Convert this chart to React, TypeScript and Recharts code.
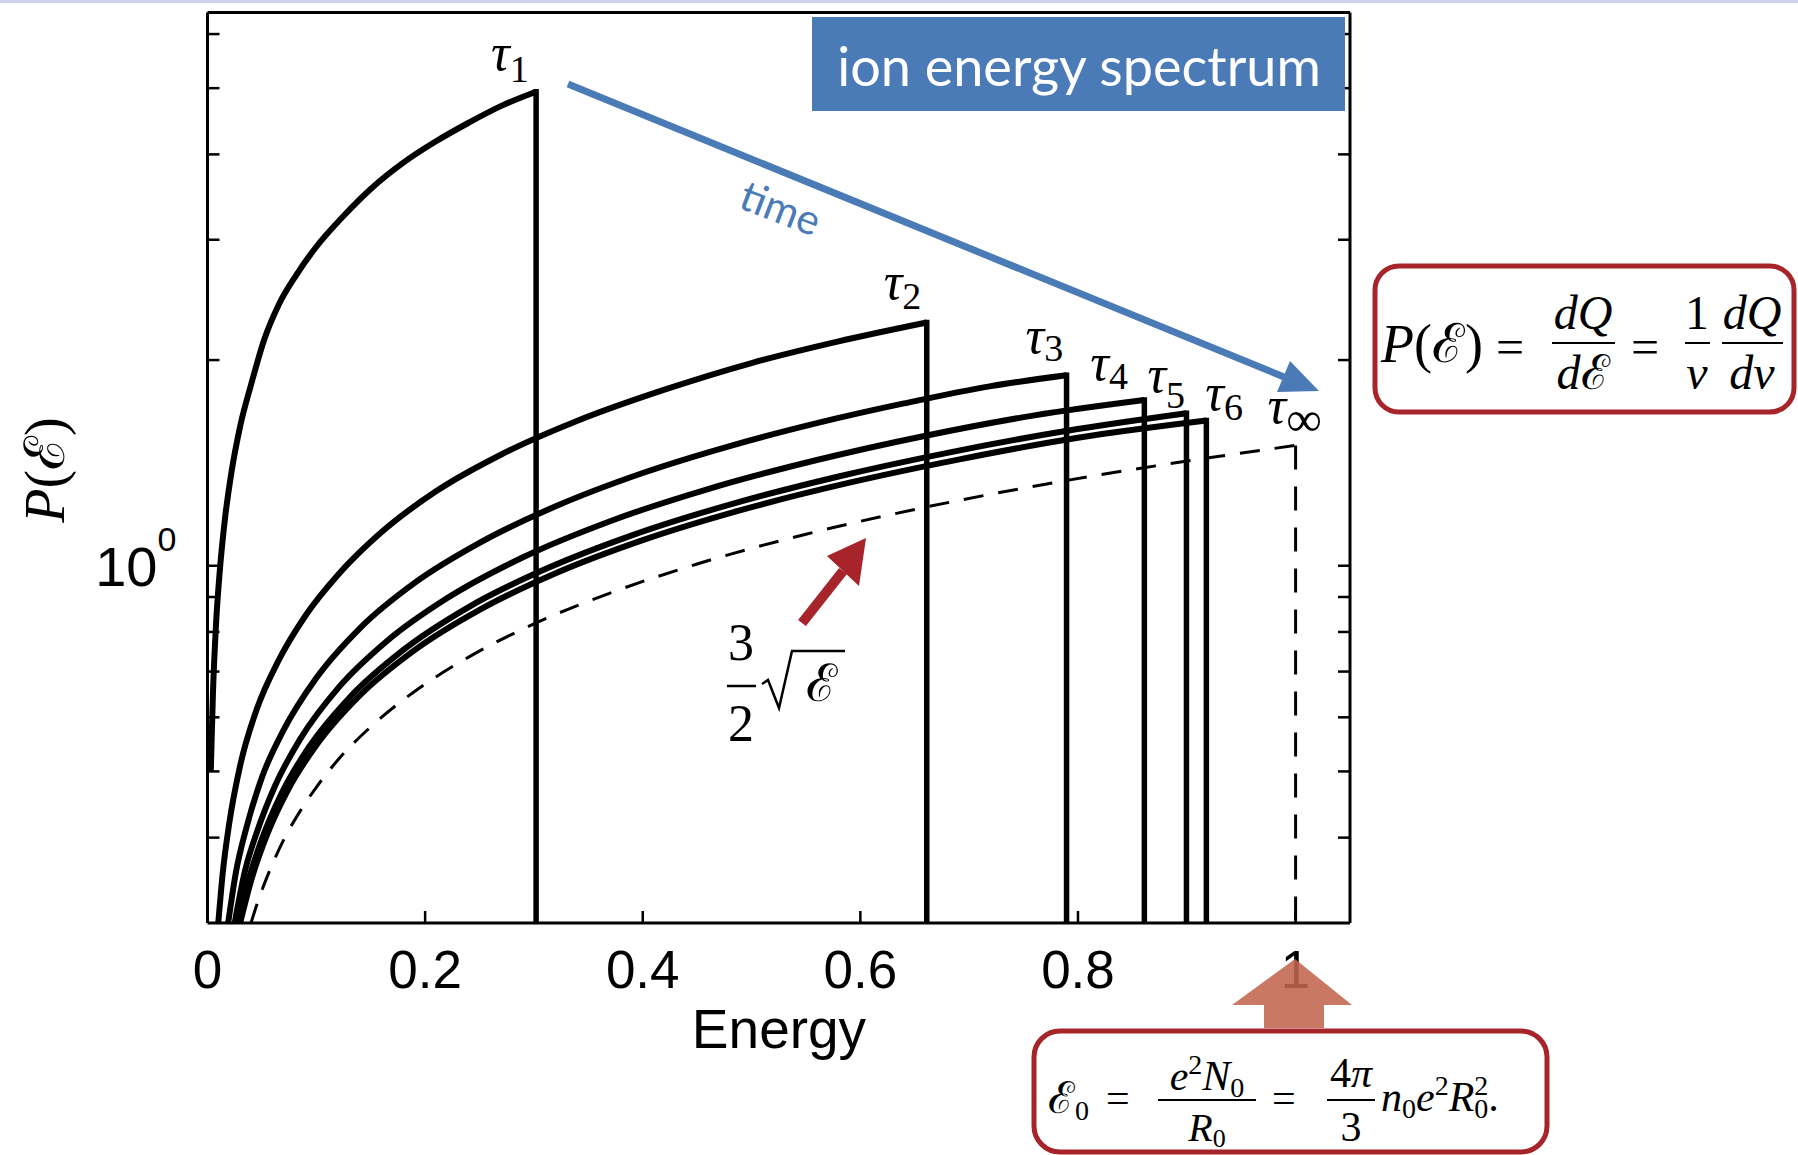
import React from "react";
import { LineChart, Line, XAxis, YAxis } from "recharts";

// axis ranges (energy in units of E0, P on a log axis)
const E_DOMAIN: [number, number] = [0, 1.05];
const P_DOMAIN: [number, number] = [0.3, 6.45];

const energyTicks = [0, 0.2, 0.4, 0.6, 0.8, 1];
const pTicks = [0.4, 0.5, 0.6, 0.7, 0.8, 0.9, 1, 2, 3, 4, 5, 6];

// spectra at successive times; last point = cutoff
const tau1E = [0.003, 0.005, 0.008, 0.011, 0.016, 0.022, 0.03, 0.04, 0.052, 0.066, 0.082, 0.1, 0.125, 0.15, 0.18, 0.21, 0.24, 0.27, 0.302];
const tau1P = [0.5, 0.65, 0.83, 0.97, 1.17, 1.37, 1.6, 1.84, 2.14, 2.42, 2.67, 2.93, 3.25, 3.56, 3.89, 4.18, 4.45, 4.71, 4.94];

const tau2E = [0.0099, 0.014, 0.02, 0.03, 0.045, 0.065, 0.09, 0.12, 0.16, 0.21, 0.27, 0.34, 0.42, 0.5, 0.58, 0.661];
const tau2P = [0.3, 0.355, 0.42, 0.51, 0.615, 0.725, 0.845, 0.97, 1.12, 1.285, 1.455, 1.63, 1.81, 1.98, 2.13, 2.27];

const tau3E = [0.019, 0.026, 0.036, 0.05, 0.07, 0.1, 0.14, 0.19, 0.25, 0.32, 0.4, 0.48, 0.56, 0.64, 0.72, 0.7895];
const tau3P = [0.3, 0.355, 0.415, 0.49, 0.575, 0.685, 0.81, 0.943, 1.08, 1.222, 1.367, 1.497, 1.617, 1.728, 1.832, 1.9];

const tau4E = [0.025, 0.034, 0.046, 0.062, 0.085, 0.12, 0.165, 0.22, 0.29, 0.37, 0.46, 0.56, 0.66, 0.76, 0.861];
const tau4P = [0.3, 0.355, 0.41, 0.476, 0.557, 0.662, 0.776, 0.896, 1.029, 1.162, 1.295, 1.428, 1.55, 1.66, 1.748];

const tau5E = [0.028, 0.038, 0.05, 0.068, 0.093, 0.13, 0.18, 0.24, 0.31, 0.39, 0.48, 0.58, 0.68, 0.79, 0.8997];
const tau5P = [0.3, 0.348, 0.398, 0.464, 0.542, 0.64, 0.753, 0.87, 0.988, 1.108, 1.229, 1.351, 1.463, 1.576, 1.672];

const tau6E = [0.03, 0.041, 0.055, 0.074, 0.1, 0.14, 0.19, 0.25, 0.32, 0.4, 0.49, 0.59, 0.69, 0.8, 0.918];
const tau6P = [0.3, 0.35, 0.405, 0.47, 0.546, 0.646, 0.752, 0.862, 0.975, 1.09, 1.206, 1.323, 1.43, 1.539, 1.631];

// asymptotic spectrum 3/2 sqrt(E), up to E = 1
const limitE = [0.04, 0.045, 0.05, 0.06, 0.07, 0.085, 0.1, 0.12, 0.15, 0.19, 0.24, 0.3, 0.37, 0.45, 0.55, 0.65, 0.75, 0.87, 1.0];
const limitP = [0.3, 0.318, 0.335, 0.367, 0.397, 0.437, 0.474, 0.52, 0.581, 0.654, 0.735, 0.822, 0.912, 1.006, 1.112, 1.209, 1.299, 1.399, 1.5];

const tauNames = ["1", "2", "3", "4", "5", "6"];
// label placement relative to the top of each cutoff: [dx, dy, subscript shift]
const tauLabelOffsets = [
  [-45, -22, 12],
  [-43, -23, 10],
  [-41, -22, 8],
  [-54, -20, 9],
  [-39, -21, 16],
  [-1, -11, 10],
];

const SERIF = "'Liberation Serif', 'DejaVu Serif', serif";
const SANS = "'Liberation Sans', Arial, sans-serif";
const BLUE = "#4a7bb7";
const RED = "#a6242a";
const ORANGE = "#c2654f";

const toPoints = (es: number[], ps: number[]) => es.map((e, i) => ({ e, p: ps[i] }));

const curves = [
  toPoints(tau1E, tau1P),
  toPoints(tau2E, tau2P),
  toPoints(tau3E, tau3P),
  toPoints(tau4E, tau4P),
  toPoints(tau5E, tau5P),
  toPoints(tau6E, tau6P),
];
const limitCurve = toPoints(limitE, limitP);

// vertical drop at the cutoff of each spectrum
const drops = curves.map((c) => {
  const last = c[c.length - 1];
  return [{ e: last.e, p: last.p }, { e: last.e, p: P_DOMAIN[0] }];
});
const limitLast = limitCurve[limitCurve.length - 1];
const limitDrop = [{ e: limitLast.e, p: limitLast.p }, { e: limitLast.e, p: P_DOMAIN[0] }];

const TICK = 12;

function BottomTick(props: any) {
  const { x, y, payload } = props;
  return (
    <g>
      <line x1={x} x2={x} y1={y} y2={y - TICK} stroke="#000" strokeWidth={2.5} />
      <text x={x} y={y + 65} textAnchor="middle" fontSize={53} fontFamily={SANS} fill="#000">
        {String(payload.value)}
      </text>
    </g>
  );
}

function TopTick(props: any) {
  const { x, y } = props;
  return <line x1={x} x2={x} y1={y} y2={y + TICK} stroke="#000" strokeWidth={2.5} />;
}

function LeftTick(props: any) {
  const { x, y, payload } = props;
  return (
    <g>
      <line x1={x} x2={x + TICK} y1={y} y2={y} stroke="#000" strokeWidth={2.5} />
      {payload.value === 1 && (
        <g fontFamily={SANS} fill="#000">
          <text x={x - 50} y={y + 20} textAnchor="end" fontSize={56}>10</text>
          <text x={x - 50} y={y - 15} fontSize={34}>0</text>
        </g>
      )}
    </g>
  );
}

function RightTick(props: any) {
  const { x, y } = props;
  return <line x1={x} x2={x - TICK} y1={y} y2={y} stroke="#000" strokeWidth={2.5} />;
}

const tauLabel = (name: string, off: number[], subSize = 38) => (props: any) => {
  const { cx, cy, index } = props;
  if (index !== 0 || cx == null) return <g key={`e-${name}-${index}`} />;
  return (
    <text key={`t-${name}`} x={cx + off[0]} y={cy + off[1]} fontFamily={SERIF} fill="#000">
      <tspan fontSize={52} fontStyle="italic">τ</tspan>
      <tspan fontSize={subSize} dy={off[2]}>{name}</tspan>
    </text>
  );
};

function Overlay() {
  return (
    <svg
      width={1798}
      height={1155}
      style={{ position: "absolute", left: 0, top: 0, pointerEvents: "none" }}
    >
      <rect x={0} y={0} width={1798} height={3} fill="#cdd5ee" />

      {/* title box */}
      <rect x={812} y={17} width={533} height={94} fill={BLUE} />
      <text x={1079} y={86} textAnchor="middle" fontSize={54} fontFamily="Lato, 'Open Sans', sans-serif" fill="#fff">
        ion energy spectrum
      </text>

      {/* time arrow */}
      <line x1={568} y1={84} x2={1284} y2={377} stroke={BLUE} strokeWidth={7} />
      <polygon points="1319,391 1277,392 1290,361" fill={BLUE} />
      <text
        x={781}
        y={207}
        textAnchor="middle"
        dominantBaseline="central"
        fontSize={42}
        fontFamily="Lato, 'Open Sans', sans-serif"
        fill={BLUE}
        transform="rotate(21 781 207)"
      >
        time
      </text>

      {/* y label */}
      <text
        x={64}
        y={470}
        textAnchor="middle"
        fontSize={56}
        fontFamily={SERIF}
        fill="#000"
        transform="rotate(-90 64 470)"
      >
        <tspan fontStyle="italic">P</tspan>(ℰ)
      </text>

      {/* x label */}
      <text x={779} y={1048} textAnchor="middle" fontSize={55} fontFamily={SANS} fill="#000">
        Energy
      </text>

      {/* 3/2 sqrt(E) annotation */}
      <line x1={802} y1={623} x2={843} y2={571} stroke={RED} strokeWidth={10} />
      <polygon points="866,538 827,556 859,586" fill={RED} />
      <g fontFamily={SERIF} fill="#000">
        <text x={741} y={660} textAnchor="middle" fontSize={52}>3</text>
        <line x1={727} x2={756} y1={686} y2={686} stroke="#000" strokeWidth={2.5} />
        <text x={741} y={741} textAnchor="middle" fontSize={52}>2</text>
        <path d="M762 684 L768 680 L779 708 L792 651 L845 651" fill="none" stroke="#000" strokeWidth={2.5} />
        <text x={806} y={701} fontSize={52}>ℰ</text>
      </g>

      {/* P(E) definition box */}
      <rect x={1375} y={266} width={419} height={146} rx={24} fill="#fff" stroke={RED} strokeWidth={5} />
      <g fontFamily={SERIF} fill="#000">
        <text x={1381} y={362} fontSize={54}>
          <tspan fontStyle="italic">P</tspan>(ℰ)
        </text>
        <text x={1496} y={364} fontSize={50}>=</text>
        <text x={1583} y={329} textAnchor="middle" fontSize={48} fontStyle="italic">dQ</text>
        <line x1={1552} x2={1615} y1={343} y2={343} stroke="#000" strokeWidth={2} />
        <text x={1583} y={389} textAnchor="middle" fontSize={48}>
          <tspan fontStyle="italic">d</tspan>ℰ
        </text>
        <text x={1631} y={364} fontSize={50}>=</text>
        <text x={1697} y={329} textAnchor="middle" fontSize={48}>1</text>
        <line x1={1685} x2={1710} y1={343} y2={343} stroke="#000" strokeWidth={2} />
        <text x={1697} y={389} textAnchor="middle" fontSize={48} fontStyle="italic">v</text>
        <text x={1752} y={329} textAnchor="middle" fontSize={48} fontStyle="italic">dQ</text>
        <line x1={1722} x2={1783} y1={343} y2={343} stroke="#000" strokeWidth={2} />
        <text x={1752} y={389} textAnchor="middle" fontSize={48} fontStyle="italic">dv</text>
      </g>

      {/* E0 arrow and box */}
      <polygon
        points="1295,959 1352,1005 1324,1005 1324,1028 1264,1028 1264,1005 1232,1005"
        fill={ORANGE}
        fillOpacity={0.88}
      />
      <rect x={1034} y={1031} width={513} height={121} rx={26} fill="#fff" stroke={RED} strokeWidth={5} />
      <g fontFamily={SERIF} fill="#000">
        <text x={1048} y={1113} fontSize={44}>
          ℰ<tspan fontSize={28} dy={7}>0</tspan>
        </text>
        <text x={1106} y={1112} fontSize={42}>=</text>
        <text x={1207} y={1090} textAnchor="middle" fontSize={42}>
          <tspan fontStyle="italic">e</tspan>
          <tspan fontSize={28} dy={-16}>2</tspan>
          <tspan fontStyle="italic" dy={16}>N</tspan>
          <tspan fontSize={28} dy={7}>0</tspan>
        </text>
        <line x1={1158} x2={1256} y1={1100} y2={1100} stroke="#000" strokeWidth={2} />
        <text x={1207} y={1141} textAnchor="middle" fontSize={40}>
          <tspan fontStyle="italic">R</tspan>
          <tspan fontSize={26} dy={6}>0</tspan>
        </text>
        <text x={1272} y={1112} fontSize={42}>=</text>
        <text x={1351} y={1087} textAnchor="middle" fontSize={42}>
          4<tspan fontStyle="italic">π</tspan>
        </text>
        <line x1={1327} x2={1375} y1={1100} y2={1100} stroke="#000" strokeWidth={2} />
        <text x={1351} y={1141} textAnchor="middle" fontSize={42}>3</text>
        <text x={1381} y={1111} fontSize={42}>
          <tspan fontStyle="italic">n</tspan>
          <tspan fontSize={28} dy={7}>0</tspan>
          <tspan fontStyle="italic" dy={-7}>e</tspan>
          <tspan fontSize={28} dy={-16}>2</tspan>
          <tspan fontStyle="italic" dy={16}>R</tspan>
          <tspan fontSize={28} dy={7}>0</tspan>
          <tspan fontSize={28} dx={-14} dy={-23}>2</tspan>
          <tspan dy={16}>.</tspan>
        </text>
      </g>
    </svg>
  );
}

export default function App() {
  return (
    <div style={{ position: "absolute", left: 0, top: 0, width: 1798, height: 1155, background: "#fff" }}>
      <LineChart width={1798} height={1155} margin={{ top: 11.6, right: 447, bottom: 172, left: 127.5 }}>
        <XAxis
          dataKey="e"
          type="number"
          domain={E_DOMAIN}
          ticks={energyTicks}
          interval={0}
          allowDataOverflow
          height={60}
          tickSize={0}
          tickMargin={0}
          tickLine={false}
          axisLine={{ stroke: "#000", strokeWidth: 3 }}
          tick={(p: any) => <BottomTick {...p} />}
        />
        <XAxis
          xAxisId="top"
          orientation="top"
          type="number"
          domain={E_DOMAIN}
          ticks={energyTicks}
          interval={0}
          allowDataOverflow
          height={1}
          tickSize={0}
          tickMargin={0}
          tickLine={false}
          axisLine={{ stroke: "#000", strokeWidth: 3 }}
          tick={(p: any) => <TopTick {...p} />}
        />
        <YAxis
          dataKey="p"
          type="number"
          scale="log"
          domain={P_DOMAIN}
          ticks={pTicks}
          interval={0}
          allowDataOverflow
          width={80}
          tickSize={0}
          tickMargin={0}
          tickLine={false}
          axisLine={{ stroke: "#000", strokeWidth: 3 }}
          tick={(p: any) => <LeftTick {...p} />}
        />
        <YAxis
          yAxisId="right"
          orientation="right"
          type="number"
          scale="log"
          domain={P_DOMAIN}
          ticks={pTicks}
          interval={0}
          allowDataOverflow
          width={1}
          tickSize={0}
          tickMargin={0}
          tickLine={false}
          axisLine={{ stroke: "#000", strokeWidth: 3 }}
          tick={(p: any) => <RightTick {...p} />}
        />

        <Line
          data={limitCurve}
          dataKey="p"
          type="monotone"
          stroke="#000"
          strokeWidth={3}
          strokeDasharray="20 15"
          dot={false}
          isAnimationActive={false}
        />
        <Line
          data={limitDrop}
          dataKey="p"
          type="linear"
          stroke="#000"
          strokeWidth={3}
          strokeDasharray="24 17"
          dot={tauLabel("∞", [-28, -22, 13], 50)}
          isAnimationActive={false}
        />

        {curves.map((c, i) => (
          <Line
            key={`curve-${i}`}
            data={c}
            dataKey="p"
            type="monotone"
            stroke="#000"
            strokeWidth={6}
            dot={false}
            isAnimationActive={false}
          />
        ))}
        {drops.map((d, i) => (
          <Line
            key={`drop-${i}`}
            data={d}
            dataKey="p"
            type="linear"
            stroke="#000"
            strokeWidth={5.5}
            strokeLinecap="square"
            dot={tauLabel(tauNames[i], tauLabelOffsets[i])}
            isAnimationActive={false}
          />
        ))}
      </LineChart>
      <Overlay />
    </div>
  );
}
